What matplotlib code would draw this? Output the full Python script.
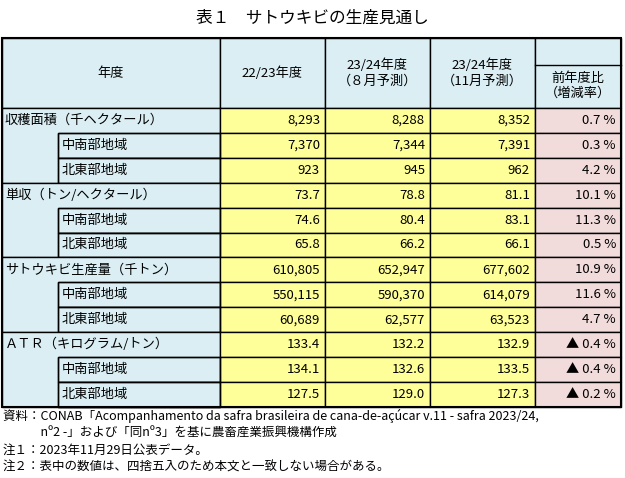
import matplotlib.pyplot as plt
from matplotlib.patches import Rectangle

plt.rcParams['font.family'] = ['Noto Sans CJK JP']

# --- データ ---
row_labels = ["収穫面積（千ヘクタール）", "中南部地域", "北東部地域",
              "単収（トン/ヘクタール）", "中南部地域", "北東部地域",
              "サトウキビ生産量（千トン）", "中南部地域", "北東部地域",
              "ＡＴＲ（キログラム/トン）", "中南部地域", "北東部地域"]
is_sub = [False, True, True] * 4
col_22_23 = ["8,293", "7,370", "923", "73.7", "74.6", "65.8",
             "610,805", "550,115", "60,689", "133.4", "134.1", "127.5"]
col_aug = ["8,288", "7,344", "945", "78.8", "80.4", "66.2",
           "652,947", "590,370", "62,577", "132.2", "132.6", "129.0"]
col_nov = ["8,352", "7,391", "962", "81.1", "83.1", "66.1",
           "677,602", "614,079", "63,523", "132.9", "133.5", "127.3"]
yoy = ["0.7 %", "0.3 %", "4.2 %", "10.1 %", "11.3 %", "0.5 %",
       "10.9 %", "11.6 %", "4.7 %", "▲ 0.4 %", "▲ 0.4 %", "▲ 0.2 %"]
headers = ["年度", "22/23年度", "23/24年度\n（８月予測）", "23/24年度\n（11月予測）", "前年度比\n（増減率）"]
title = "表１　サトウキビの生産見通し"
notes = ["資料：CONAB「Acompanhamento da safra brasileira de cana-de-açúcar v.11 - safra 2023/24,",
         "　　　nº2 -」および「同nº3」を基に農畜産業振興機構作成",
         "注１：2023年11月29日公表データ。",
         "注２：表中の数値は、四捨五入のため本文と一致しない場合がある。"]

BLUE, YELLOW, PINK = "#DAEEF3", "#FFFF99", "#F2DCDB"
W, H = 625, 478
xs = [2, 220, 325, 430, 535, 621]
sub_x = 58
top, hdr_bot, row_h = 38, 108, 24.9

fig = plt.figure(figsize=(W / 100, H / 100), dpi=100)
ax = fig.add_axes([0, 0, 1, 1])
ax.set_xlim(0, W)
ax.set_ylim(H, 0)
ax.axis('off')

def cell(x0, y0, x1, y1, color, lw=1.0):
    ax.add_patch(Rectangle((x0, y0), x1 - x0, y1 - y0, facecolor=color, edgecolor='black', lw=lw))

ax.text(W / 2, 18, title, ha='center', va='center', fontsize=12)

# ヘッダー
cell(xs[0], top, xs[1], hdr_bot, BLUE)
for i in range(1, 4):
    cell(xs[i], top, xs[i + 1], hdr_bot, BLUE)
cell(xs[4], top, xs[5], hdr_bot, BLUE)
ax.plot([xs[4], xs[5]], [65, 65], color='black', lw=1.0)
for i, h in enumerate(headers):
    cx = (xs[i] + xs[i + 1]) / 2
    cy = 86 if i == 4 else 73
    ax.text(cx, cy, h, ha='center', va='center', fontsize=9.5, linespacing=1.2)

# 行
for r, lab in enumerate(row_labels):
    y0 = hdr_bot + r * row_h
    y1 = y0 + row_h
    if is_sub[r]:
        cell(sub_x, y0, xs[1], y1, BLUE)
        ax.text(sub_x + 4, (y0 + y1) / 2, lab, ha='left', va='center', fontsize=9.5)
    else:
        ax.add_patch(Rectangle((xs[0], y0), xs[1] - xs[0], 3 * row_h, facecolor=BLUE, edgecolor='black', lw=1.0))
        ax.text(xs[0] + 3, (y0 + y1) / 2, lab, ha='left', va='center', fontsize=9.5)
    for i, col in enumerate([col_22_23, col_aug, col_nov, yoy]):
        cell(xs[i + 1], y0, xs[i + 2], y1, PINK if i == 3 else YELLOW)
        ax.text(xs[i + 2] - 5, (y0 + y1) / 2, col[r], ha='right', va='center', fontsize=9.5)
    if is_sub[r]:
        cell(sub_x, y0, xs[1], y1, 'none')

# 外枠
ax.add_patch(Rectangle((xs[0], top), xs[5] - xs[0], hdr_bot + 12 * row_h - top,
                       facecolor='none', edgecolor='black', lw=1.5))

for k, n in enumerate(notes):
    ax.text(3, 416 + k * 17, n, ha='left', va='center', fontsize=9)

fig.savefig("out.png", dpi=100)
